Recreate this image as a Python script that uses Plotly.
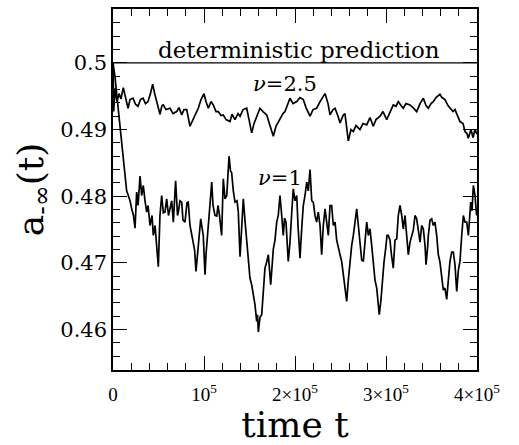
import plotly.graph_objects as go

# time in units of 10^3
t_nu25 = [0, 0.8, 2.2, 4.4, 6.6, 8.8, 11.3, 14.3, 16.5, 18.7, 22, 24.7, 27.5, 30.2, 33, 35.7, 38.5, 41.2, 43.6, 45.8,
          48, 50, 51.6, 53.8, 55.3, 58.2, 62.6, 65.9, 70, 72.5, 75.5, 78, 81, 84.6, 88.2, 91.2, 93.7, 96.7, 100, 102.2,
          104.7, 107.7, 110.2, 113.2, 115.7, 118.7, 121.2, 124.2, 128.6, 130.8, 134, 137.4, 139.6, 142.9, 146.9, 149.5,
          152.4, 155, 157.9, 161.5, 164.8, 168.9, 172.5, 176.2, 179.1, 183.5, 186.8, 189, 191.8, 194.5, 197.8, 201.9,
          205.5, 209.1, 212.1, 216.5, 219.8, 223.8, 227.5, 233, 236.3, 238.5, 241.8, 244, 247.3, 249.5, 253.1, 254.9,
          258.6, 261.5, 264.1, 267, 271.4, 274.7, 278.8, 282.4, 286, 289, 293.4, 296.7, 300.8, 304.4, 308, 311, 313.5,
          316.5, 319, 322, 326.4, 329.7, 333.7, 337.4, 341, 344, 346.5, 349.5, 352, 354.9, 359.3, 361.5, 364.8, 368.1,
          370.3, 373.6, 375.8, 379.1, 381.3, 384.6, 386.8, 389, 390.4, 393.4, 395.6, 397.8, 400]
a_nu25 = [0.5, 0.4927, 0.4962, 0.4942, 0.4954, 0.4946, 0.4963, 0.4945, 0.4932, 0.4945, 0.4947, 0.4938, 0.4935, 0.4945,
          0.4947, 0.4939, 0.4942, 0.4954, 0.4968, 0.4954, 0.4942, 0.4930, 0.4923, 0.4936, 0.4937, 0.4930, 0.4932,
          0.4924, 0.4927, 0.4933, 0.4922, 0.4930, 0.4930, 0.4905, 0.4915, 0.4924, 0.4932, 0.4945, 0.4954, 0.4942,
          0.4932, 0.4942, 0.4937, 0.4927, 0.4927, 0.4921, 0.4922, 0.4915, 0.4912, 0.4923, 0.4915, 0.4924, 0.4920,
          0.4930, 0.4932, 0.4915, 0.4895, 0.4909, 0.4920, 0.4932, 0.4927, 0.4922, 0.4906, 0.4890, 0.4905, 0.4917,
          0.4924, 0.4927, 0.4939, 0.4947, 0.4939, 0.4942, 0.4948, 0.4945, 0.4933, 0.4920, 0.4930, 0.4932, 0.4942,
          0.4954, 0.4939, 0.4922, 0.4930, 0.4932, 0.4920, 0.4910, 0.4922, 0.4924, 0.4883, 0.4900, 0.4897, 0.4906,
          0.4900, 0.4909, 0.4907, 0.4918, 0.4905, 0.4915, 0.4920, 0.4927, 0.4915, 0.4927, 0.4937, 0.4935, 0.4942,
          0.4936, 0.4932, 0.4939, 0.4937, 0.4933, 0.4927, 0.4939, 0.4947, 0.4936, 0.4932, 0.4939, 0.4942, 0.4948,
          0.4953, 0.4948, 0.4945, 0.4936, 0.4932, 0.4927, 0.4930, 0.4918, 0.4912, 0.4909, 0.4897, 0.4894, 0.4887,
          0.4900, 0.4888, 0.4900, 0.4893]

t_nu1 = [0, 2.2, 4.4, 6, 7.7, 9.6, 11.3, 13.2, 15, 16.8, 18.7, 20.5, 22.5, 24.2, 26, 27.5, 29.7, 31.5, 33.3, 35.2, 37,
         38.5, 40.7, 42.9, 44.3, 46.2, 48, 49.8, 51.6, 53.5, 55.3, 57.1, 59, 61, 62.6, 64.5, 66.3, 68.8, 70.9, 71.8,
         73.6, 75.5, 76.9, 79.1, 81.3, 82.7, 84.6, 88.2, 89.7, 91.2, 93.7, 95.6, 96.4, 99.2, 101.1, 102.2, 104.7,
         106.6, 108.5, 109.9, 112.1, 114, 115.4, 117, 119.4, 121.2, 123.1, 125, 126.4, 127.5, 129.1, 130.4, 132.2,
         134.1, 136.3, 137.7, 139.6, 141.2, 143.2, 145, 146.9, 148.9, 150.5, 152.4, 154.2, 156, 157.9, 158.8, 159.7,
         161.5, 163.4, 164.8, 167, 168.9, 170.7, 173.3, 174.7, 176.2, 178, 179.9, 181.6, 183.5, 185.4, 187.1, 188.5,
         190.1, 192.6, 194.5, 196.4, 198.1, 200, 201.9, 203.3, 205.5, 207.4, 209.1, 211, 212.9, 214.6, 216.5, 218.4,
         220.1, 222, 223.8, 225.6, 227.5, 229.3, 231.1, 233, 234.8, 236.6, 238.5, 240.3, 242.1, 244, 245.8, 247.6,
         249.5, 251.3, 253.1, 254.9, 256.8, 258.6, 260.4, 262.3, 264.1, 265.9, 267.8, 269.6, 271.4, 273.3, 275.1,
         276.9, 278.8, 280.6, 282.4, 284.3, 286, 287.9, 289.8, 291.2, 292.6, 294.5, 295.9, 297.8, 299.7, 301.1, 302.5,
         304.4, 306, 308, 309.9, 311.8, 313.5, 315.4, 317.3, 319, 320.9, 322.8, 324.5, 326.4, 328.2, 330, 331.9,
         333.7, 335.5, 337.4, 339.2, 341, 342.9, 344, 345.9, 346.5, 348.4, 350.2, 352, 353.8, 355.7, 357.5, 359.3,
         361.2, 363, 364.8, 366.7, 368.5, 370.3, 372.2, 374, 375.8, 377.7, 379.5, 381.3, 383.2, 385, 386.8, 388.7,
         390.5, 393.1, 394.5, 396, 397.8, 399.6]
a_nu1 = [0.5, 0.4979, 0.4949, 0.4927, 0.4900, 0.4883, 0.4860, 0.4830, 0.4808, 0.4801, 0.4793, 0.4781, 0.4771, 0.4752,
         0.4806, 0.4786, 0.4830, 0.4801, 0.4816, 0.4793, 0.4776, 0.4786, 0.4756, 0.4771, 0.4741, 0.4756, 0.4722,
         0.4694, 0.4771, 0.4801, 0.4775, 0.4776, 0.4796, 0.4771, 0.4781, 0.4793, 0.4761, 0.4823, 0.4771, 0.4776,
         0.4793, 0.4791, 0.4764, 0.4761, 0.4790, 0.4791, 0.4756, 0.4731, 0.4719, 0.4687, 0.4731, 0.4756, 0.4766,
         0.4741, 0.4682, 0.4712, 0.4761, 0.4793, 0.4821, 0.4786, 0.4771, 0.4770, 0.4786, 0.4771, 0.4741, 0.4826,
         0.4796, 0.4801, 0.4830, 0.4860, 0.4838, 0.4835, 0.4808, 0.4791, 0.4793, 0.4776, 0.4709, 0.4756, 0.4796,
         0.4764, 0.4731, 0.4704, 0.4677, 0.4667, 0.4652, 0.4637, 0.4612, 0.4622, 0.4596, 0.4618, 0.4622, 0.4648,
         0.4692, 0.4701, 0.4712, 0.4667, 0.4697, 0.4721, 0.4734, 0.4761, 0.4771, 0.4801, 0.4771, 0.4741, 0.4767,
         0.4761, 0.4702, 0.4731, 0.4775, 0.4811, 0.4793, 0.4801, 0.4756, 0.4707, 0.4752, 0.4786, 0.4801, 0.4821,
         0.4808, 0.4840, 0.4793, 0.4791, 0.4771, 0.4761, 0.4776, 0.4756, 0.4712, 0.4756, 0.4781, 0.4756, 0.4741,
         0.4786, 0.4786, 0.4756, 0.4761, 0.4734, 0.4721, 0.4712, 0.4702, 0.4682, 0.4667, 0.4642, 0.4674, 0.4702,
         0.4726, 0.4741, 0.4764, 0.4781, 0.4756, 0.4731, 0.4704, 0.4702, 0.4734, 0.4761, 0.4741, 0.4751, 0.4726,
         0.4702, 0.4674, 0.4662, 0.4637, 0.4622, 0.4645, 0.4674, 0.4701, 0.4722, 0.4741, 0.4741, 0.4734, 0.4712,
         0.4692, 0.4734, 0.4736, 0.4771, 0.4786, 0.4771, 0.4751, 0.4771, 0.4741, 0.4712, 0.4731, 0.4741, 0.4749,
         0.4771, 0.4766, 0.4749, 0.4731, 0.4756, 0.4751, 0.4726, 0.4697, 0.4726, 0.4741, 0.4764, 0.4766, 0.4756,
         0.4761, 0.4741, 0.4712, 0.4701, 0.4682, 0.4659, 0.4662, 0.4645, 0.4674, 0.4702, 0.4716, 0.4716, 0.4697,
         0.4657, 0.4689, 0.4702, 0.4741, 0.4771, 0.4761, 0.4761, 0.4741, 0.4791, 0.4778, 0.4816, 0.4801, 0.4771]

t_det = [0, 400]
a_det = [0.5, 0.5]

x_tickvals = [0, 1e5, 2e5, 3e5, 4e5]
x_ticktext = ["0", "10<sup>5</sup>", "2×10<sup>5</sup>", "3×10<sup>5</sup>", "4×10<sup>5</sup>"]
y_tickvals = [0.46, 0.47, 0.48, 0.49, 0.5]
y_ticktext = ["0.46", "0.47", "0.48", "0.49", "0.5"]

FONT = "DejaVu Serif"
FONT2 = "Liberation Serif"

fig = go.Figure()
fig.add_trace(go.Scatter(x=[v * 1e3 for v in t_det], y=a_det, mode="lines",
                         line=dict(color="black", width=1.3), showlegend=False))
for tt, aa in [(t_nu25, a_nu25), (t_nu1, a_nu1)]:
    fig.add_trace(go.Scatter(x=[v * 1e3 for v in tt], y=aa, mode="lines",
                             line=dict(color="black", width=1.7), showlegend=False))

fig.add_annotation(x=204e3, y=0.50193, text="deterministic prediction", showarrow=False,
                   font=dict(family=FONT, size=23, color="black"))
fig.add_annotation(x=189e3, y=0.49688, text="<i>ν</i>=2.5", showarrow=False,
                   font=dict(family=FONT, size=21, color="black"))
fig.add_annotation(x=183e3, y=0.48275, text="<i>ν</i>=1", showarrow=False,
                   font=dict(family=FONT, size=21, color="black"))

axis_common = dict(showgrid=False, zeroline=False, showline=True, linecolor="black", linewidth=1.5,
                   mirror="allticks", ticks="inside", ticklen=14, tickwidth=1.3, tickcolor="black")

fig.update_xaxes(range=[0, 4e5], tickmode="array", tickvals=x_tickvals, ticktext=x_ticktext,
                 tickfont=dict(family=FONT2, size=19, color="black"), ticklabelstandoff=6,
                 minor=dict(dtick=2e4, ticklen=7, tickwidth=1.2, tickcolor="black", ticks="inside"),
                 title=dict(text="time t", font=dict(family=FONT, size=36, color="black"), standoff=8),
                 **axis_common)
fig.update_yaxes(range=[0.4539, 0.5081], tickmode="array", tickvals=y_tickvals, ticktext=y_ticktext,
                 tickfont=dict(family=FONT, size=21, color="black"),
                 minor=dict(dtick=0.002, tick0=0.46, ticklen=7, tickwidth=1.2, tickcolor="black", ticks="inside"),
                 title=dict(text="a<sub>-∞</sub>(t)", font=dict(family=FONT, size=36, color="black"), standoff=6),
                 **axis_common)

fig.update_layout(width=519, height=445, margin=dict(l=113, r=42, t=7, b=74),
                  plot_bgcolor="white", paper_bgcolor="white")

fig.write_html("out.html")
